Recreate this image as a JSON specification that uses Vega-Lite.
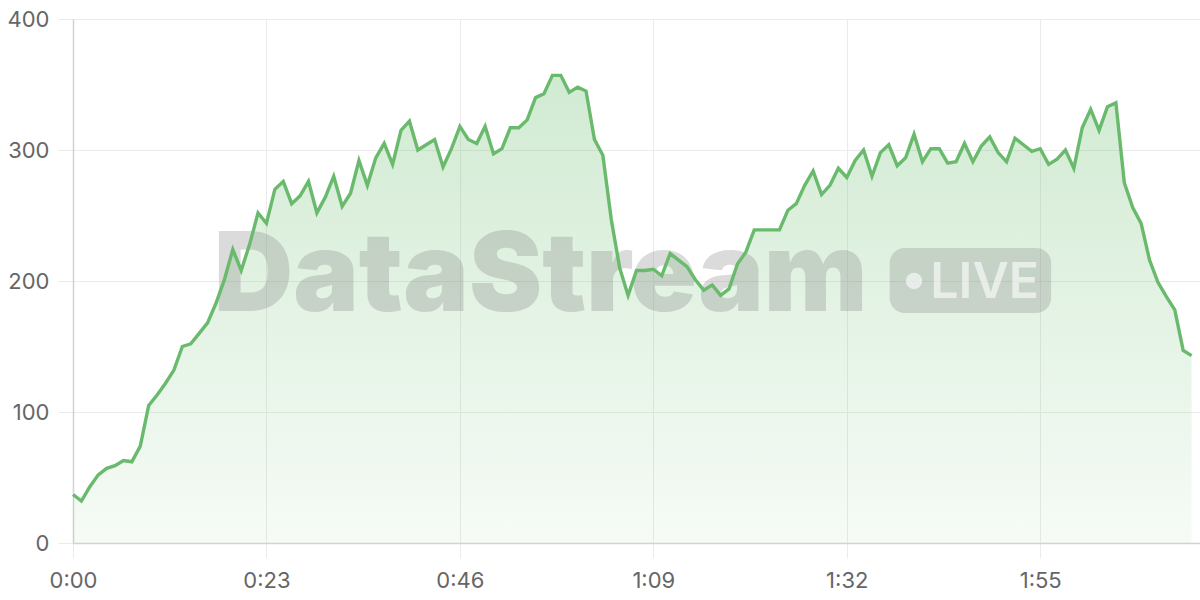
{
  "$schema": "https://vega.github.io/schema/vega-lite/v6.json",
  "width": 1127,
  "height": 524,
  "autosize": {"type": "none"},
  "padding": {"left": 73, "top": 19, "right": 0, "bottom": 57},
  "background": "white",
  "config": {
    "view": {"stroke": null},
    "axis": {
      "labelFont": "Inter",
      "labelFontSize": 22,
      "labelColor": "#666666",
      "labelFlush": false,
      "gridColor": "#ebebeb",
      "gridWidth": 1,
      "tickColor": "#ebebeb",
      "tickSize": 15,
      "domainColor": "#d2d2d2",
      "domainWidth": 1.5,
      "title": null
    }
  },
  "data": {
    "values": [
      {"t": 0, "v": 37}, {"t": 1, "v": 32}, {"t": 2, "v": 43}, {"t": 3, "v": 52}, {"t": 4, "v": 57},
      {"t": 5, "v": 59}, {"t": 6, "v": 63}, {"t": 7, "v": 62}, {"t": 8, "v": 74}, {"t": 9, "v": 105},
      {"t": 10, "v": 113}, {"t": 11, "v": 122}, {"t": 12, "v": 132}, {"t": 13, "v": 150}, {"t": 14, "v": 152},
      {"t": 15, "v": 160}, {"t": 16, "v": 168}, {"t": 17, "v": 183}, {"t": 18, "v": 201}, {"t": 19, "v": 224},
      {"t": 20, "v": 208}, {"t": 21, "v": 228}, {"t": 22, "v": 252}, {"t": 23, "v": 244}, {"t": 24, "v": 270},
      {"t": 25, "v": 276}, {"t": 26, "v": 259}, {"t": 27, "v": 265}, {"t": 28, "v": 276}, {"t": 29, "v": 252},
      {"t": 30, "v": 264}, {"t": 31, "v": 280}, {"t": 32, "v": 257}, {"t": 33, "v": 267}, {"t": 34, "v": 292},
      {"t": 35, "v": 273}, {"t": 36, "v": 294}, {"t": 37, "v": 305}, {"t": 38, "v": 289}, {"t": 39, "v": 315},
      {"t": 40, "v": 322}, {"t": 41, "v": 300}, {"t": 42, "v": 304}, {"t": 43, "v": 308}, {"t": 44, "v": 287},
      {"t": 45, "v": 301}, {"t": 46, "v": 318}, {"t": 47, "v": 308}, {"t": 48, "v": 305}, {"t": 49, "v": 318},
      {"t": 50, "v": 297}, {"t": 51, "v": 301}, {"t": 52, "v": 317}, {"t": 53, "v": 317}, {"t": 54, "v": 323},
      {"t": 55, "v": 340}, {"t": 56, "v": 343}, {"t": 57, "v": 357}, {"t": 58, "v": 357}, {"t": 59, "v": 344},
      {"t": 60, "v": 348}, {"t": 61, "v": 345}, {"t": 62, "v": 308}, {"t": 63, "v": 296}, {"t": 64, "v": 247},
      {"t": 65, "v": 210}, {"t": 66, "v": 189}, {"t": 67, "v": 208}, {"t": 68, "v": 208}, {"t": 69, "v": 209},
      {"t": 70, "v": 204}, {"t": 71, "v": 221}, {"t": 72, "v": 216}, {"t": 73, "v": 211}, {"t": 74, "v": 201},
      {"t": 75, "v": 193}, {"t": 76, "v": 197}, {"t": 77, "v": 189}, {"t": 78, "v": 194}, {"t": 79, "v": 213},
      {"t": 80, "v": 222}, {"t": 81, "v": 239}, {"t": 82, "v": 239}, {"t": 83, "v": 239}, {"t": 84, "v": 239},
      {"t": 85, "v": 254}, {"t": 86, "v": 259}, {"t": 87, "v": 273}, {"t": 88, "v": 284}, {"t": 89, "v": 266},
      {"t": 90, "v": 273}, {"t": 91, "v": 286}, {"t": 92, "v": 279}, {"t": 93, "v": 292}, {"t": 94, "v": 300},
      {"t": 95, "v": 280}, {"t": 96, "v": 298}, {"t": 97, "v": 304}, {"t": 98, "v": 288}, {"t": 99, "v": 294},
      {"t": 100, "v": 312}, {"t": 101, "v": 291}, {"t": 102, "v": 301}, {"t": 103, "v": 301}, {"t": 104, "v": 290},
      {"t": 105, "v": 291}, {"t": 106, "v": 305}, {"t": 107, "v": 291}, {"t": 108, "v": 303}, {"t": 109, "v": 310},
      {"t": 110, "v": 298}, {"t": 111, "v": 291}, {"t": 112, "v": 309}, {"t": 113, "v": 304}, {"t": 114, "v": 299},
      {"t": 115, "v": 301}, {"t": 116, "v": 289}, {"t": 117, "v": 293}, {"t": 118, "v": 300}, {"t": 119, "v": 286},
      {"t": 120, "v": 317}, {"t": 121, "v": 331}, {"t": 122, "v": 315}, {"t": 123, "v": 333}, {"t": 124, "v": 336},
      {"t": 125, "v": 275}, {"t": 126, "v": 256}, {"t": 127, "v": 244}, {"t": 128, "v": 216}, {"t": 129, "v": 199},
      {"t": 130, "v": 188}, {"t": 131, "v": 178}, {"t": 132, "v": 147}, {"t": 133, "v": 143}
    ]
  },
  "layer": [
    {
      "mark": {
        "type": "area",
        "interpolate": "linear",
        "color": {
          "gradient": "linear",
          "x1": 0, "y1": 0, "x2": 0, "y2": 1,
          "stops": [
            {"offset": 0, "color": "rgba(102,187,106,0.30)"},
            {"offset": 1, "color": "rgba(102,187,106,0.06)"}
          ]
        }
      },
      "encoding": {
        "x": {
          "field": "t", "type": "quantitative",
          "scale": {"domain": [0, 134], "nice": false, "zero": false},
          "axis": {
            "values": [0, 23, 46, 69, 92, 115],
            "labelExpr": "floor(datum.value / 60) + ':' + (datum.value % 60 < 10 ? '0' : '') + (datum.value % 60)",
            "labelPadding": 12,
            "grid": true
          }
        },
        "y": {
          "field": "v", "type": "quantitative",
          "scale": {"domain": [0, 400], "nice": false},
          "axis": {"values": [0, 100, 200, 300, 400], "labelPadding": 9, "grid": true}
        }
      }
    },
    {
      "data": {"values": [{}]},
      "mark": {
        "type": "text",
        "text": "DataStream",
        "font": "Inter",
        "fontWeight": 900,
        "fontSize": 110,
        "align": "center",
        "baseline": "alphabetic",
        "fill": "#808080",
        "opacity": 0.28
      },
      "encoding": {
        "x": {"datum": 55.6, "type": "quantitative"},
        "y": {"datum": 177, "type": "quantitative"}
      }
    },
    {
      "data": {"values": [{}]},
      "mark": {"type": "rect", "cornerRadius": 15, "fill": "#808080", "opacity": 0.28},
      "encoding": {
        "x": {"datum": 97.1, "type": "quantitative"},
        "x2": {"datum": 116.3},
        "y": {"datum": 225.2, "type": "quantitative"},
        "y2": {"datum": 175.6}
      }
    },
    {
      "data": {"values": [{}]},
      "mark": {"type": "circle", "size": 270, "fill": "white", "opacity": 0.6},
      "encoding": {
        "x": {"datum": 100, "type": "quantitative"},
        "y": {"datum": 200, "type": "quantitative"}
      }
    },
    {
      "data": {"values": [{}]},
      "mark": {
        "type": "text",
        "text": "LIVE",
        "font": "Inter",
        "fontWeight": 600,
        "fontSize": 50,
        "align": "center",
        "baseline": "alphabetic",
        "fill": "white",
        "opacity": 0.6
      },
      "encoding": {
        "x": {"datum": 108.4, "type": "quantitative"},
        "y": {"datum": 187.3, "type": "quantitative"}
      }
    },
    {
      "mark": {"type": "line", "interpolate": "linear", "color": "#6aba6e", "strokeWidth": 3.4},
      "encoding": {
        "x": {"field": "t", "type": "quantitative"},
        "y": {"field": "v", "type": "quantitative"}
      }
    }
  ]
}
